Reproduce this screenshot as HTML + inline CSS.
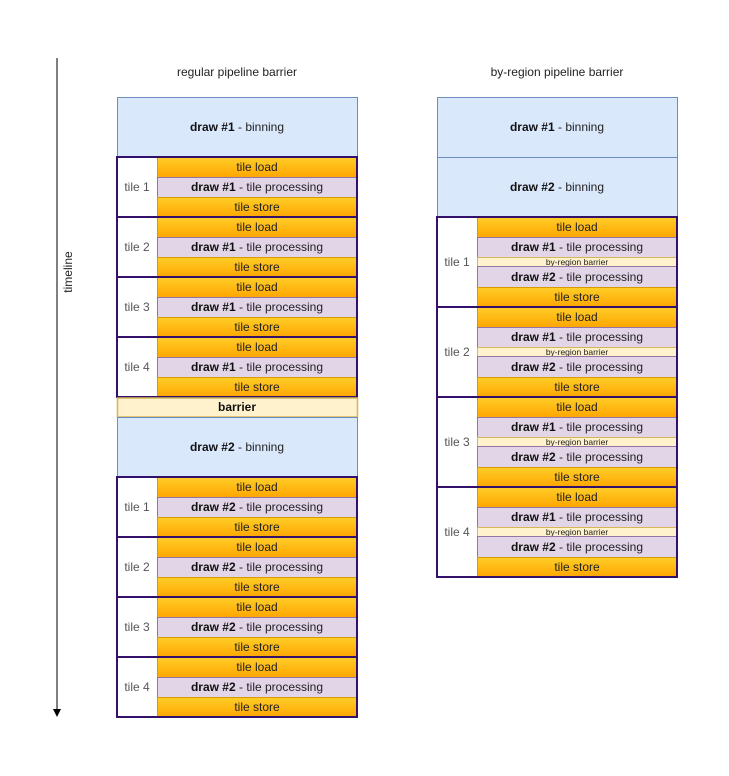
<!DOCTYPE html>
<html><head><meta charset="utf-8"><style>
html,body{margin:0;padding:0;background:#fff;}
svg{display:block;}
text{font-family:"Liberation Sans",sans-serif;font-size:12px;fill:#222;text-anchor:middle;}
.b{font-weight:bold;fill:#111;}
.lbl{fill:#555;}
.sm{font-size:8.5px;}
.or{fill:url(#og);stroke:#d79b00;stroke-width:1;}
.pu{fill:#e1d5e7;stroke:#9673a6;stroke-width:1;}
.bl{fill:#dae8fc;stroke:#6c8ebf;stroke-width:1;}
.br{fill:#fff2cc;stroke:#d6b656;stroke-width:1.5;}
.grp{fill:none;stroke:#33116b;stroke-width:2;}
</style></head><body>
<svg width="729" height="776" viewBox="0 0 729 776" xmlns="http://www.w3.org/2000/svg">
<defs>
<linearGradient id="og" x1="0" y1="0" x2="0" y2="1"><stop offset="0" stop-color="#ffcd28"/><stop offset="1" stop-color="#ffa500"/></linearGradient>
</defs>
<line x1="57" y1="58" x2="57" y2="710" stroke="#000" stroke-width="1"/>
<polygon points="53,709 61,709 57,717" fill="#000"/>
<text x="72" y="272" transform="rotate(-90 72 272)">timeline</text>

<text x="237" y="76">regular pipeline barrier</text>
<text x="557" y="76">by-region pipeline barrier</text>

<!-- LEFT -->
<rect class="bl" x="117.5" y="97.5" width="240" height="60"/>
<text x="237" y="131"><tspan class="b">draw #1</tspan> - binning</text>

<!-- groups left draw1 -->
<g>
<rect class="or" x="157.5" y="157.5" width="200" height="20"/><text x="257" y="171">tile load</text>
<rect class="pu" x="157.5" y="177.5" width="200" height="20"/><text x="257" y="191"><tspan class="b">draw #1</tspan> - tile processing</text>
<rect class="or" x="157.5" y="197.5" width="200" height="20"/><text x="257" y="211">tile store</text>
<text class="lbl" x="137" y="191">tile 1</text>
<rect class="grp" x="117" y="157" width="240" height="60"/>
</g>
<g>
<rect class="or" x="157.5" y="217.5" width="200" height="20"/><text x="257" y="231">tile load</text>
<rect class="pu" x="157.5" y="237.5" width="200" height="20"/><text x="257" y="251"><tspan class="b">draw #1</tspan> - tile processing</text>
<rect class="or" x="157.5" y="257.5" width="200" height="20"/><text x="257" y="271">tile store</text>
<text class="lbl" x="137" y="251">tile 2</text>
<rect class="grp" x="117" y="217" width="240" height="60"/>
</g>
<g>
<rect class="or" x="157.5" y="277.5" width="200" height="20"/><text x="257" y="291">tile load</text>
<rect class="pu" x="157.5" y="297.5" width="200" height="20"/><text x="257" y="311"><tspan class="b">draw #1</tspan> - tile processing</text>
<rect class="or" x="157.5" y="317.5" width="200" height="20"/><text x="257" y="331">tile store</text>
<text class="lbl" x="137" y="311">tile 3</text>
<rect class="grp" x="117" y="277" width="240" height="60"/>
</g>
<g>
<rect class="or" x="157.5" y="337.5" width="200" height="20"/><text x="257" y="351">tile load</text>
<rect class="pu" x="157.5" y="357.5" width="200" height="20"/><text x="257" y="371"><tspan class="b">draw #1</tspan> - tile processing</text>
<rect class="or" x="157.5" y="377.5" width="200" height="20"/><text x="257" y="391">tile store</text>
<text class="lbl" x="137" y="371">tile 4</text>
<rect class="grp" x="117" y="337" width="240" height="60"/>
</g>

<rect class="br" x="117.5" y="398" width="240" height="19"/>
<text class="b" x="237" y="411">barrier</text>

<rect class="bl" x="117.5" y="417.5" width="240" height="60"/>
<text x="237" y="451"><tspan class="b">draw #2</tspan> - binning</text>

<g>
<rect class="or" x="157.5" y="477.5" width="200" height="20"/><text x="257" y="491">tile load</text>
<rect class="pu" x="157.5" y="497.5" width="200" height="20"/><text x="257" y="511"><tspan class="b">draw #2</tspan> - tile processing</text>
<rect class="or" x="157.5" y="517.5" width="200" height="20"/><text x="257" y="531">tile store</text>
<text class="lbl" x="137" y="511">tile 1</text>
<rect class="grp" x="117" y="477" width="240" height="60"/>
</g>
<g>
<rect class="or" x="157.5" y="537.5" width="200" height="20"/><text x="257" y="551">tile load</text>
<rect class="pu" x="157.5" y="557.5" width="200" height="20"/><text x="257" y="571"><tspan class="b">draw #2</tspan> - tile processing</text>
<rect class="or" x="157.5" y="577.5" width="200" height="20"/><text x="257" y="591">tile store</text>
<text class="lbl" x="137" y="571">tile 2</text>
<rect class="grp" x="117" y="537" width="240" height="60"/>
</g>
<g>
<rect class="or" x="157.5" y="597.5" width="200" height="20"/><text x="257" y="611">tile load</text>
<rect class="pu" x="157.5" y="617.5" width="200" height="20"/><text x="257" y="631"><tspan class="b">draw #2</tspan> - tile processing</text>
<rect class="or" x="157.5" y="637.5" width="200" height="20"/><text x="257" y="651">tile store</text>
<text class="lbl" x="137" y="631">tile 3</text>
<rect class="grp" x="117" y="597" width="240" height="60"/>
</g>
<g>
<rect class="or" x="157.5" y="657.5" width="200" height="20"/><text x="257" y="671">tile load</text>
<rect class="pu" x="157.5" y="677.5" width="200" height="20"/><text x="257" y="691"><tspan class="b">draw #2</tspan> - tile processing</text>
<rect class="or" x="157.5" y="697.5" width="200" height="20"/><text x="257" y="711">tile store</text>
<text class="lbl" x="137" y="691">tile 4</text>
<rect class="grp" x="117" y="657" width="240" height="60"/>
</g>

<!-- RIGHT -->
<rect class="bl" x="437.5" y="97.5" width="240" height="60"/>
<text x="557" y="131"><tspan class="b">draw #1</tspan> - binning</text>
<rect class="bl" x="437.5" y="157.5" width="240" height="60"/>
<text x="557" y="191"><tspan class="b">draw #2</tspan> - binning</text>

<g>
<rect class="or" x="477.5" y="217.5" width="200" height="20"/><text x="577" y="231">tile load</text>
<rect class="pu" x="477.5" y="237.5" width="200" height="20"/><text x="577" y="251"><tspan class="b">draw #1</tspan> - tile processing</text>
<rect class="br" x="477.5" y="257.5" width="200" height="9" style="stroke-width:1"/><text class="sm" x="577" y="265">by-region barrier</text>
<rect class="pu" x="477.5" y="266.5" width="200" height="21"/><text x="577" y="281"><tspan class="b">draw #2</tspan> - tile processing</text>
<rect class="or" x="477.5" y="287.5" width="200" height="20"/><text x="577" y="301">tile store</text>
<text class="lbl" x="457" y="266">tile 1</text>
<rect class="grp" x="437" y="217" width="240" height="90"/>
</g>
<g>
<rect class="or" x="477.5" y="307.5" width="200" height="20"/><text x="577" y="321">tile load</text>
<rect class="pu" x="477.5" y="327.5" width="200" height="20"/><text x="577" y="341"><tspan class="b">draw #1</tspan> - tile processing</text>
<rect class="br" x="477.5" y="347.5" width="200" height="9" style="stroke-width:1"/><text class="sm" x="577" y="355">by-region barrier</text>
<rect class="pu" x="477.5" y="356.5" width="200" height="21"/><text x="577" y="371"><tspan class="b">draw #2</tspan> - tile processing</text>
<rect class="or" x="477.5" y="377.5" width="200" height="20"/><text x="577" y="391">tile store</text>
<text class="lbl" x="457" y="356">tile 2</text>
<rect class="grp" x="437" y="307" width="240" height="90"/>
</g>
<g>
<rect class="or" x="477.5" y="397.5" width="200" height="20"/><text x="577" y="411">tile load</text>
<rect class="pu" x="477.5" y="417.5" width="200" height="20"/><text x="577" y="431"><tspan class="b">draw #1</tspan> - tile processing</text>
<rect class="br" x="477.5" y="437.5" width="200" height="9" style="stroke-width:1"/><text class="sm" x="577" y="445">by-region barrier</text>
<rect class="pu" x="477.5" y="446.5" width="200" height="21"/><text x="577" y="461"><tspan class="b">draw #2</tspan> - tile processing</text>
<rect class="or" x="477.5" y="467.5" width="200" height="20"/><text x="577" y="481">tile store</text>
<text class="lbl" x="457" y="446">tile 3</text>
<rect class="grp" x="437" y="397" width="240" height="90"/>
</g>
<g>
<rect class="or" x="477.5" y="487.5" width="200" height="20"/><text x="577" y="501">tile load</text>
<rect class="pu" x="477.5" y="507.5" width="200" height="20"/><text x="577" y="521"><tspan class="b">draw #1</tspan> - tile processing</text>
<rect class="br" x="477.5" y="527.5" width="200" height="9" style="stroke-width:1"/><text class="sm" x="577" y="535">by-region barrier</text>
<rect class="pu" x="477.5" y="536.5" width="200" height="21"/><text x="577" y="551"><tspan class="b">draw #2</tspan> - tile processing</text>
<rect class="or" x="477.5" y="557.5" width="200" height="20"/><text x="577" y="571">tile store</text>
<text class="lbl" x="457" y="536">tile 4</text>
<rect class="grp" x="437" y="487" width="240" height="90"/>
</g>
</svg>
</body></html>
